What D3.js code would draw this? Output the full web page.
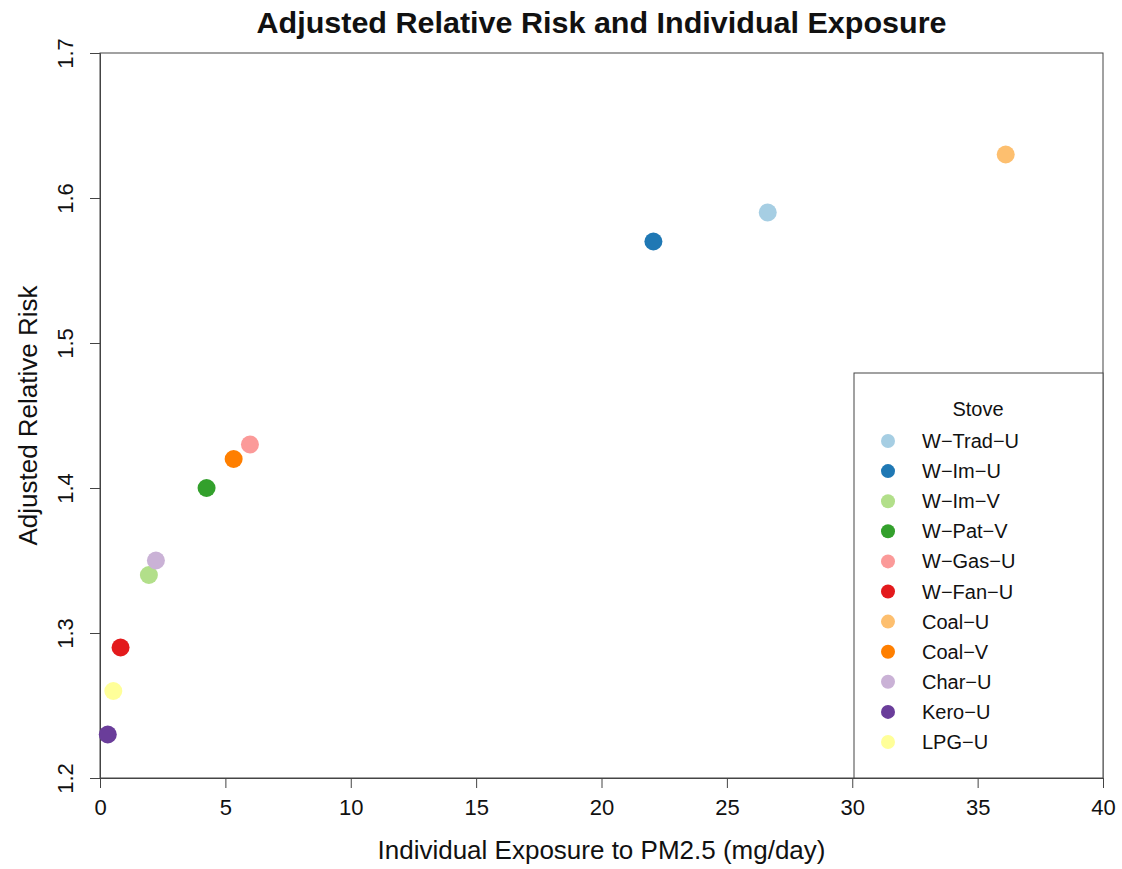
<!DOCTYPE html>
<html>
<head>
<meta charset="utf-8">
<script src="https://cdn.jsdelivr.net/npm/d3@7"></script>
<style>
  body { margin: 0; background: #fff; }
  text { font-family: "Liberation Sans", Arial, Helvetica, sans-serif; fill: #111; }
</style>
</head>
<body>
<script>
// Datos
const estufas = ["W\u2212Trad\u2212U", "W\u2212Im\u2212U", "W\u2212Im\u2212V", "W\u2212Pat\u2212V", "W\u2212Gas\u2212U",
  "W\u2212Fan\u2212U", "Coal\u2212U", "Coal\u2212V", "Char\u2212U", "Kero\u2212U", "LPG\u2212U"];
const exposicion = [26.63, 22.07, 1.95, 4.25, 5.98, 0.82, 36.12, 5.33, 2.23, 0.31, 0.53];
const riesgo = [1.59, 1.57, 1.34, 1.40, 1.43, 1.29, 1.63, 1.42, 1.35, 1.23, 1.26];
const colores = ["#A6CEE3", "#1F78B4", "#B2DF8A", "#33A02C", "#FB9A99", "#E31A1C",
  "#FDBF6F", "#FF7F00", "#CAB2D6", "#6A3D9A", "#FFFF99"];
const ticksX = [0, 5, 10, 15, 20, 25, 30, 35, 40];
const ticksY = [1.2, 1.3, 1.4, 1.5, 1.6, 1.7];

const width = 1122;
const height = 869;
const margin = { top: 53, right: 19, bottom: 91, left: 100 };

const svg = d3.select("body").append("svg")
  .attr("width", width)
  .attr("height", height);

// Escalas
const x = d3.scaleLinear().domain([0, 40]).range([margin.left, width - margin.right]);
const y = d3.scaleLinear().domain([1.2, 1.7]).range([height - margin.bottom, margin.top]);

// Titulo
svg.append("text")
  .attr("x", (x(0) + x(40)) / 2)
  .attr("y", 33)
  .attr("text-anchor", "middle")
  .attr("font-size", "30px")
  .attr("font-weight", "bold")
  .attr("textLength", 690)
  .attr("lengthAdjust", "spacingAndGlyphs")
  .text("Adjusted Relative Risk and Individual Exposure");

// Eje X
const ejeX = svg.append("g")
  .attr("transform", `translate(0,${y(1.2)})`)
  .call(d3.axisBottom(x).tickValues(ticksX).tickSize(10).tickPadding(11).tickFormat(d3.format("d")));
ejeX.select(".domain").attr("stroke", "#444");
ejeX.selectAll(".tick line").attr("stroke", "#444");
ejeX.selectAll(".tick text").attr("font-size", "22px").attr("fill", "#111");

// Eje Y
const ejeY = svg.append("g")
  .attr("transform", `translate(${x(0)},0)`)
  .call(d3.axisLeft(y).tickValues(ticksY).tickSize(10).tickFormat(d3.format(".1f")));
ejeY.select(".domain").attr("stroke", "#444");
ejeY.selectAll(".tick line").attr("stroke", "#444");
ejeY.selectAll(".tick text")
  .attr("font-size", "22px")
  .attr("fill", "#111")
  .attr("text-anchor", "middle")
  .attr("x", 0)
  .attr("dy", 0)
  .attr("transform", "translate(-27,0) rotate(-90)");

// Caja del grafico
svg.append("rect")
  .attr("x", x(0))
  .attr("y", y(1.7))
  .attr("width", x(40) - x(0))
  .attr("height", y(1.2) - y(1.7))
  .attr("fill", "none")
  .attr("stroke", "#444");

// Etiquetas de los ejes
svg.append("text")
  .attr("x", (x(0) + x(40)) / 2)
  .attr("y", 859)
  .attr("text-anchor", "middle")
  .attr("font-size", "26px")
  .text("Individual Exposure to PM2.5 (mg/day)");

svg.append("text")
  .attr("transform", `translate(37,${(y(1.2) + y(1.7)) / 2}) rotate(-90)`)
  .attr("text-anchor", "middle")
  .attr("font-size", "26px")
  .text("Adjusted Relative Risk");

// Leyenda
const leyenda = svg.append("g").attr("transform", "translate(854,373)");
leyenda.append("rect")
  .attr("width", x(40) - 854)
  .attr("height", y(1.2) - 373)
  .attr("fill", "#fff")
  .attr("stroke", "#444");
leyenda.append("text")
  .attr("x", 124)
  .attr("y", 43)
  .attr("text-anchor", "middle")
  .attr("font-size", "20px")
  .text("Stove");
const items = leyenda.selectAll("g.item")
  .data(estufas)
  .enter()
  .append("g")
  .attr("class", "item")
  .attr("transform", (d, i) => `translate(0,${68 + i * 30.1})`);
items.append("circle")
  .attr("cx", 34)
  .attr("cy", 0)
  .attr("r", 7)
  .attr("fill", (d, i) => colores[i]);
items.append("text")
  .attr("x", 68)
  .attr("y", 7)
  .attr("font-size", "20px")
  .text(d => d);

// Puntos
svg.selectAll("circle.punto")
  .data(estufas)
  .enter()
  .append("circle")
  .attr("class", "punto")
  .attr("cx", (d, i) => x(exposicion[i]))
  .attr("cy", (d, i) => y(riesgo[i]))
  .attr("r", 9)
  .attr("fill", (d, i) => colores[i]);
</script>
</body>
</html>
